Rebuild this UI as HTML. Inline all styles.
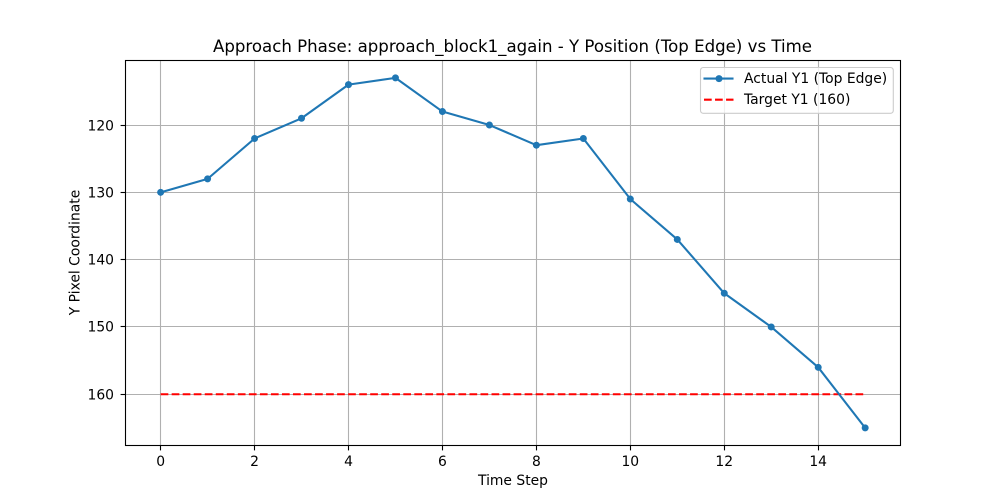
<!DOCTYPE html>
<html lang="en">
<head>
<meta charset="utf-8">
<title>Approach Phase Chart</title>
<style>
html,body{margin:0;padding:0;background:#fff;}
svg{display:block;}
text{font-family:"DejaVu Sans",sans-serif;fill:#000;}
</style>
</head>
<body>
<svg id="chart" xmlns="http://www.w3.org/2000/svg" width="1000" height="500" viewBox="0 0 1000 500"></svg>
<script>
const timeSteps = [0,1,2,3,4,5,6,7,8,9,10,11,12,13,14,15];
const actualY1 = [130,128,122,119,114,113,118,120,123,122,131,137,145,150,156,165];
const targetY1 = [160,160,160,160,160,160,160,160,160,160,160,160,160,160,160,160];
const xTicks = [0,2,4,6,8,10,12,14];
const yTicks = [120,130,140,150,160];
const titleText = "Approach Phase: approach_block1_again - Y Position (Top Edge) vs Time";
const xAxisLabel = "Time Step";
const yAxisLabel = "Y Pixel Coordinate";
const actualLabel = "Actual Y1 (Top Edge)";
const targetLabel = "Target Y1 (160)";

const NS = "http://www.w3.org/2000/svg";
const svg = document.getElementById("chart");
const plot = {left:125, right:900, top:60, bottom:445};

const allY = actualY1.concat(targetY1);
const xMin = Math.min(...timeSteps), xMax = Math.max(...timeSteps);
const yMin = Math.min(...allY), yMax = Math.max(...allY);
const xPad = (xMax - xMin) * 0.05, yPad = (yMax - yMin) * 0.05;

function xScale(v){
  return plot.left + (v - (xMin - xPad)) / ((xMax + xPad) - (xMin - xPad)) * (plot.right - plot.left) + 0.4;
}
function yScale(v){
  return plot.top + (v - (yMin - yPad)) / ((yMax + yPad) - (yMin - yPad)) * (plot.bottom - plot.top) + 0.4;
}
function snap(v){
  return Math.floor(v) + 0.5;
}
function make(tag, attrs, parent){
  const el = document.createElementNS(NS, tag);
  for (const k in attrs) el.setAttribute(k, attrs[k]);
  (parent || svg).appendChild(el);
  return el;
}
function polyPoints(xs, ys){
  return xs.map((x,i) => xScale(x).toFixed(2) + "," + yScale(ys[i]).toFixed(2)).join(" ");
}

/* background */
const plotBg = make("rect", {x:plot.left, y:plot.top, width:plot.right-plot.left, height:plot.bottom-plot.top, fill:"#fff"});



/* grid lines */
xTicks.forEach(t => {
  const g = make("line", {x1:snap(xScale(t)), x2:snap(xScale(t)), y1:plot.top, y2:plot.bottom, stroke:"#b0b0b0", "stroke-width":1.1});
  
  
});
yTicks.forEach(t => {
  const g = make("line", {x1:plot.left, x2:plot.right, y1:snap(yScale(t)), y2:snap(yScale(t)), stroke:"#b0b0b0", "stroke-width":1.1});
  
  
});

/* target line */
const targetLine = make("polyline", {points:polyPoints(timeSteps, targetY1), fill:"none", stroke:"#ff0000", "stroke-width":2.08, "stroke-dasharray":"7.7 3.33"});



/* actual line */
const actualLine = make("polyline", {points:polyPoints(timeSteps, actualY1), fill:"none", stroke:"#1f77b4", "stroke-width":2.08, "stroke-linejoin":"round"});



timeSteps.forEach((x,i) => {
  const p = make("circle", {cx:xScale(x), cy:yScale(actualY1[i]), r:3.5, fill:"#1f77b4"});
  
  
});

/* spines */
const frame = make("rect", {x:plot.left+0.5, y:plot.top+0.5, width:plot.right-plot.left, height:plot.bottom-plot.top, fill:"none", stroke:"#000", "stroke-width":1.1});



/* ticks */
xTicks.forEach(t => {
  const m = make("line", {x1:snap(xScale(t)), x2:snap(xScale(t)), y1:plot.bottom+0.5, y2:plot.bottom+5.4, stroke:"#000", "stroke-width":1.1});
  
  
  const l = make("text", {x:xScale(t), y:plot.bottom+21, "font-size":13.89, "text-anchor":"middle"});
  l.textContent = t;
  
  
});
yTicks.forEach(t => {
  const m = make("line", {x1:plot.left-4.4, x2:plot.left+0.5, y1:snap(yScale(t)), y2:snap(yScale(t)), stroke:"#000", "stroke-width":1.1});
  
  
  const l = make("text", {x:plot.left-11, y:snap(yScale(t))+5, "font-size":13.89, "text-anchor":"end"});
  l.textContent = t;
  
  
});

/* title and axis labels */
const title = make("text", {x:(plot.left+plot.right)/2, y:52, "font-size":16.67, "text-anchor":"middle", "textLength":599, "lengthAdjust":"spacingAndGlyphs"});
title.textContent = titleText;



const xTitle = make("text", {x:(plot.left+plot.right)/2+0.5, y:485, "font-size":13.89, "text-anchor":"middle"});
xTitle.textContent = xAxisLabel;



const yTitle = make("text", {x:0, y:0, "font-size":13.89, "text-anchor":"middle", transform:"translate(79.5 252.5) rotate(-90)"});
yTitle.textContent = yAxisLabel;



/* legend */
const legend = make("g", {});



const legendBox = make("rect", {x:700.5, y:67.5, width:192.8, height:45.8, rx:2.8, fill:"#fff", "fill-opacity":0.8, stroke:"#ccc", "stroke-width":1.1}, legend);



const legendLineA = make("line", {x1:704.5, x2:732.5, y1:78.6, y2:78.6, stroke:"#1f77b4", "stroke-width":2.08, "stroke-linecap":"square"}, legend);



const legendDot = make("circle", {cx:719, cy:78.6, r:3.5, fill:"#1f77b4"}, legend);



const legendTextA = make("text", {x:744, y:83, "font-size":13.89}, legend);
legendTextA.textContent = actualLabel;



const legendLineB = make("line", {x1:704, x2:733.5, y1:99.7, y2:99.7, stroke:"#ff0000", "stroke-width":2.08, "stroke-dasharray":"7.7 3.33"}, legend);



const legendTextB = make("text", {x:744, y:104, "font-size":13.89}, legend);
legendTextB.textContent = targetLabel;


</script>
</body>
</html>
